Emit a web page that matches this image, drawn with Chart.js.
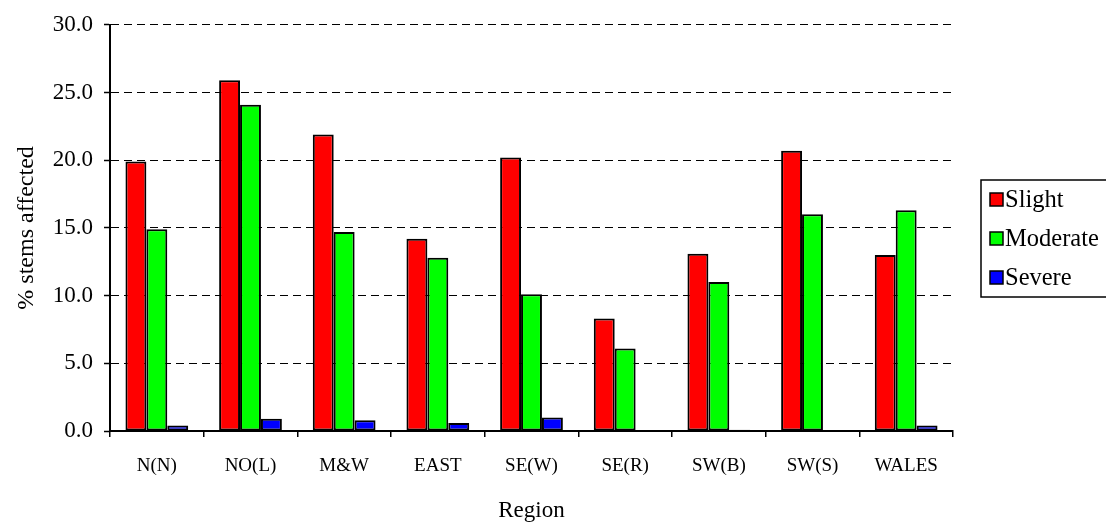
<!DOCTYPE html>
<html>
<head>
<meta charset="utf-8">
<script src="https://cdn.jsdelivr.net/npm/chart.js@4/dist/chart.umd.min.js"></script>
<style>
  html, body { margin: 0; padding: 0; background: #fff; }
  #wrap { width: 1106px; height: 522px; position: relative; }
</style>
</head>
<body>
<div id="wrap"><canvas id="c" width="1106" height="522"></canvas></div>
<script>
const regions = ["N(N)", "NO(L)", "M&W", "EAST", "SE(W)", "SE(R)", "SW(B)", "SW(S)", "WALES"];
const slight   = [19.9, 25.9, 21.9, 14.2, 20.2, 8.3, 13.1, 20.7, 13.0];
const moderate = [14.9, 24.1, 14.7, 12.8, 10.1, 6.1, 11.0, 16.0, 16.3];
const severe   = [0.4, 0.9, 0.8, 0.6, 1.0, 0.0, 0.1, 0.0, 0.4];
const seriesNames = ["Slight", "Moderate", "Severe"];
const seriesColors = ["#ff0000", "#00ff00", "#0000ff"];

const serif = "'Liberation Serif', 'Times New Roman', serif";

// Boxed legend on the right of the plot
const boxedLegend = {
  id: 'boxedLegend',
  afterDraw(chart) {
    const ctx = chart.ctx;
    const x = 981, y = 180, w = 140, h = 117;
    ctx.save();
    ctx.strokeStyle = '#000';
    ctx.lineWidth = 1.5;
    ctx.strokeRect(x, y, w, h);
    ctx.font = "24.5px " + serif;
    ctx.textBaseline = 'middle';
    ctx.textAlign = 'left';
    chart.data.datasets.forEach((ds, i) => {
      const cy = y + 20 + i * 39;
      ctx.fillStyle = ds.backgroundColor;
      ctx.fillRect(x + 9, cy - 7, 13, 13);
      ctx.strokeStyle = '#000';
      ctx.lineWidth = 1.5;
      ctx.strokeRect(x + 9, cy - 7, 13, 13);
      ctx.fillStyle = '#000';
      ctx.fillText(ds.label, x + 24, cy + 1);
    });
    ctx.restore();
  }
};

const values = [slight, moderate, severe];

new Chart(document.getElementById('c'), {
  type: 'bar',
  data: {
    labels: regions,
    datasets: seriesNames.map((name, i) => ({
      label: name,
      data: values[i],
      backgroundColor: seriesColors[i],
      borderColor: '#000',
      borderWidth: 2,
      borderSkipped: false,
      categoryPercentage: 0.67,
      barPercentage: 1.0
    }))
  },
  options: {
    responsive: false,
    animation: false,
    devicePixelRatio: 1,
    layout: { padding: { top: 23, right: 153, left: 0, bottom: 0 } },
    plugins: {
      legend: { display: false },
      tooltip: { enabled: false }
    },
    scales: {
      x: {
        afterFit(scale) { scale.height = 91; },
        grid: {
          offset: true,
          drawOnChartArea: false,
          drawTicks: true,
          tickLength: 6,
          color: '#000',
          lineWidth: 1.5
        },
        border: { display: true, color: '#000', width: 2 },
        ticks: {
          color: '#000',
          font: { family: serif, size: 19 },
          padding: 18,
          maxRotation: 0,
          autoSkip: false
        },
        title: {
          display: true,
          text: 'Region',
          color: '#000',
          font: { family: serif, size: 23, lineHeight: 1.0 },
          padding: { top: 22, bottom: 0 }
        }
      },
      y: {
        min: 0,
        max: 30,
        afterFit(scale) { scale.width = 110; },
        grid: {
          color: '#000',
          lineWidth: 1,
          drawTicks: true,
          tickLength: 6,
          tickColor: '#000',
          tickWidth: 1.5,
          tickBorderDash: [],
          tickBorderDashOffset: 0
        },
        border: { display: true, color: '#000', width: 2, dash: [8, 5] },
        ticks: {
          stepSize: 5,
          color: '#000',
          font: { family: serif, size: 23 },
          padding: 11,
          callback: (v) => Number(v).toFixed(1)
        },
        title: {
          display: true,
          text: '% stems affected',
          color: '#000',
          font: { family: serif, size: 24 },
          padding: { top: 12, bottom: 4 }
        }
      }
    }
  },
  plugins: [boxedLegend]
});
</script>
</body>
</html>
